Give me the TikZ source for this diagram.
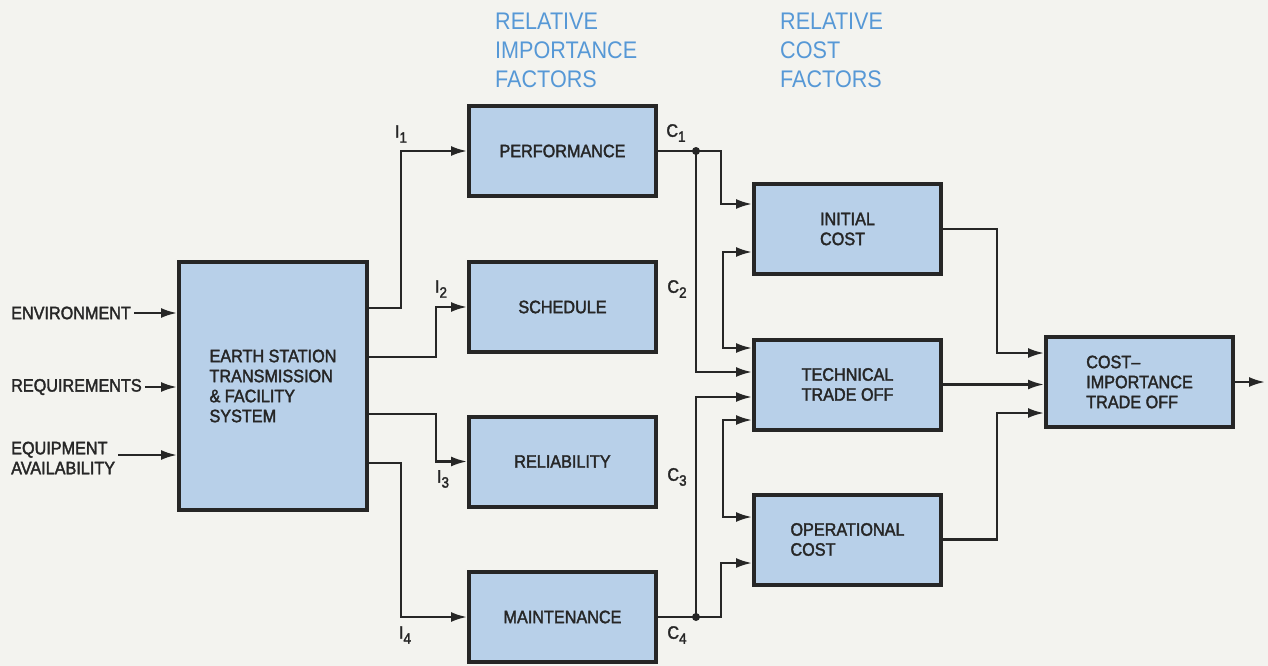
\documentclass[tikz,border=0pt]{standalone}
\usepackage{fontspec}
\setmainfont[FakeStretch=0.9]{Liberation Sans}
\newfontfamily\inkfont[FakeStretch=0.9, FakeBold=2, Ligatures=TeX]{Liberation Sans}
\definecolor{boxblue}{RGB}{184, 208, 233}
\definecolor{inkgray}{RGB}{38, 38, 38}
\definecolor{headblue}{RGB}{86, 152, 214}
\definecolor{paper}{RGB}{243, 243, 239}
\usetikzlibrary{arrows.meta, positioning, calc}
\newcommand{\sub}[1]{\raisebox{-5pt}{\fontsize{15}{15}\selectfont #1}}
\tikzset{
	block/.style={rectangle, draw=inkgray, fill=boxblue, line width=4pt, align=left, minimum width=187pt, minimum height=90pt, inner sep=0pt, text=inkgray, font=\inkfont\fontsize{18}{20}\selectfont},
	bigblock/.style={block, minimum width=188pt, minimum height=248pt},
	heading/.style={align=left, inner sep=0pt, anchor=north west, text=headblue, font=\fontsize{24}{29}\selectfont},
	inlabel/.style={align=left, inner sep=3pt, anchor=west, text=inkgray, font=\inkfont\fontsize{18}{20}\selectfont},
	tag/.style={inner sep=0pt, text=inkgray, font=\inkfont\fontsize{18}{20}\selectfont},
	arrow/.style={-{Latex[length=16pt, width=10pt]}, line width=2.3pt, draw=inkgray},
	twoway/.style={{Latex[length=16pt, width=10pt]}-{Latex[length=16pt, width=10pt]}, line width=2.3pt, draw=inkgray},
	wire/.style={line width=2.3pt, draw=inkgray},
}
\begin{document}
\begin{tikzpicture}[x=1pt, y=-1pt]
		\fill[paper] (0,0) rectangle (1268,666);
		\useasboundingbox (0,0) rectangle (1268,666);
		\node[heading] (imphead) at (495,13) {RELATIVE\\IMPORTANCE\\FACTORS};
		\node[heading] (costhead) at (780,13) {RELATIVE\\COST\\FACTORS};
		\node[bigblock] (es) at (273,386) {EARTH STATION\\TRANSMISSION\\\& FACILITY\\SYSTEM};
		\node[inlabel] (env) at (8,313) {ENVIRONMENT};
		\node[inlabel] (req) at (8,387) {REQUIREMENTS};
		\node[inlabel] (equip) at (8,458) {EQUIPMENT\\AVAILABILITY};
		\node[block] (perf) at (562.5,151) {PERFORMANCE};
		\node[block] (sched) at (562.5,307) {SCHEDULE};
		\node[block] (reli) at (562.5,461.5) {RELIABILITY};
		\node[block] (maint) at (562.5,617) {MAINTENANCE};
		\node[block] (init) at (847.5,229) {INITIAL\\COST};
		\node[block] (tech) at (847.5,384.5) {TECHNICAL\\TRADE OFF};
		\node[block] (oper) at (847.5,539.5) {OPERATIONAL\\COST};
		\node[block] (cit) at (1139.5,382) {COST–\\IMPORTANCE\\TRADE OFF};
		\node[tag] (i1) at (401,134) {I\sub{1}};
		\node[tag] (i2) at (441,289) {I\sub{2}};
		\node[tag] (i3) at (443,479) {I\sub{3}};
		\node[tag] (i4) at (405,635) {I\sub{4}};
		\node[tag] (c1) at (676,133) {C\sub{1}};
		\node[tag] (c2) at (677,289) {C\sub{2}};
		\node[tag] (c3) at (677,477) {C\sub{3}};
		\node[tag] (c4) at (677,635) {C\sub{4}};
		\coordinate[right=38pt of perf.east] (j1);
		\coordinate[right=38pt of maint.east] (j4);
		\coordinate[right=30pt of cit.east] (out);
		\draw[arrow] (env.east) -- (env.east -| es.west);
		\draw[arrow] (req.east) -- (req.east -| es.west);
		\draw[arrow] ([yshift=3pt]equip.east) -- ([yshift=3pt]equip.east -| es.west);
		\draw[arrow] ([yshift=78pt]es.east) -- ++(32pt,0) |- (perf.west);
		\draw[arrow] ([yshift=29pt]es.east) -- ++(67pt,0) |- (sched.west);
		\draw[arrow] ([yshift=-28pt]es.east) -- ++(67pt,0) |- (reli.west);
		\draw[arrow] ([yshift=-77pt]es.east) -- ++(32pt,0) |- (maint.west);
		\draw[wire] (perf.east) -- (j1);
		\draw[wire] (maint.east) -- (j4);
		\draw[arrow] (j1) -- ++(25pt,0) |- ([yshift=25pt]init.west);
		\draw[arrow] (j1) |- ([yshift=12.5pt]tech.west);
		\draw[arrow] (j4) |- ([yshift=-12.5pt]tech.west);
		\draw[arrow] (j4) -- ++(25pt,0) |- ([yshift=-23.5pt]oper.west);
		\draw[twoway] ([yshift=-23pt]init.west) -- ++(-29pt,0) |- ([yshift=36.5pt]tech.west);
		\draw[twoway] ([yshift=-35.5pt]tech.west) -- ++(-29pt,0) |- ([yshift=22.5pt]oper.west);
		\fill[inkgray] (j1) circle (4pt);
		\fill[inkgray] (j4) circle (4pt);
		\draw[arrow] (init.east) -- ++(54pt,0) |- ([yshift=29pt]cit.west);
		\draw[arrow] (tech.east) -- (tech.east -| cit.west);
		\draw[arrow] (oper.east) -- ++(54pt,0) |- ([yshift=-31pt]cit.west);
		\draw[arrow] (cit.east) -- (out);
	\end{tikzpicture}
\end{document}
